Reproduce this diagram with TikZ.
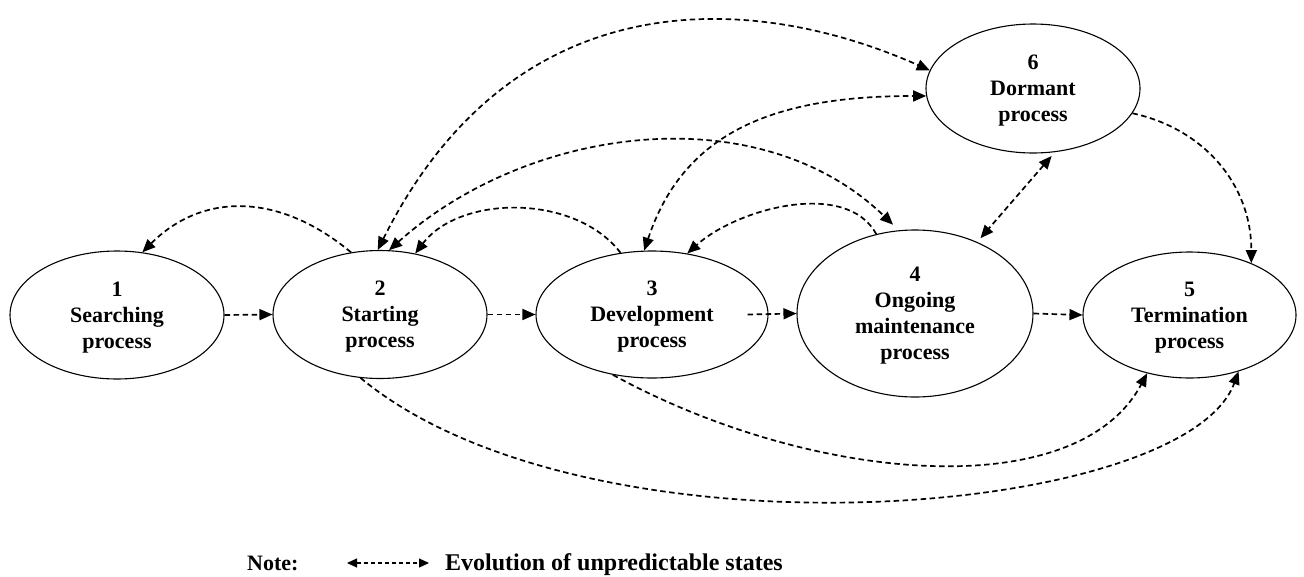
\documentclass[tikz,border=0pt]{standalone}
\usepackage{fontspec}
\setmainfont{Liberation Serif}
\usetikzlibrary{arrows.meta,shapes.geometric}
\begin{document}
\begin{tikzpicture}[x=1pt,y=-1pt,
  >={Triangle[length=13pt,width=11pt]},
  proc/.style={ellipse,draw,line width=1.1pt,inner sep=0pt,align=center,text depth=-10pt,
    font=\fontsize{22}{26}\selectfont\bfseries},
  flow/.style={line width=1.7pt,dash pattern=on 5.5pt off 3.5pt,->},
  both/.style={line width=1.7pt,dash pattern=on 5.5pt off 3.5pt,<->},
  legend/.style={anchor=base west,inner sep=0pt}
]
\useasboundingbox (0,0) rectangle (1304,576);

% process states
\node[proc,minimum width=214pt,minimum height=128pt] (n1) at (117,315)   {1\\Searching\\process};
\node[proc,minimum width=214pt,minimum height=128pt] (n2) at (380,314.5) {2\\Starting\\process};
\node[proc,minimum width=232pt,minimum height=127pt] (n3) at (652,314.5) {3\\Development\\process};
\node[proc,minimum width=236pt,minimum height=167pt] (n4) at (915,313.5) {4\\Ongoing\\maintenance\\process};
\node[proc,minimum width=213pt,minimum height=126pt] (n5) at (1189.5,315) {5\\Termination\\process};
\node[proc,minimum width=214pt,minimum height=129pt] (n6) at (1033,88.5) {6\\Dormant\\process};

% main sequence
\draw[flow] (n1.east) -- (n2.west);
\draw[flow] (n2.east) -- (n3.west);
\draw[flow] ([xshift=-21pt]n3.east) -- (n4.west);
\draw[flow] (n4.east) -- (n5.west);

% upper transitions
\draw[flow] (n2.115) .. controls +(-72,-60) and +(60,-60) .. (n1.68);
\draw[both] (n2.92) .. controls +(135,-270) and +(-180,-80) .. (n6.170);
\draw[both] (n3.97) .. controls +(40,-120) and +(-150,0) .. (n6.184);
\draw[both,shorten >=8pt] (n2.82) .. controls +(140,-125) and +(-140,-135) .. (n4.101);
\draw[flow] (n3.117) .. controls +(-45,-59) and +(45,-59) .. (n2.60);
\draw[flow] (n4.116) .. controls +(-30,-55) and +(50,-45) .. (n3.60);
\draw[both,shorten <=5pt,shorten >=5pt] (n6.289) -- (n4.49);
\draw[flow] (n6.-14) .. controls +(70,15) and +(0,-80) .. (n5.40);

% lower transitions
\draw[flow] (n3.237) .. controls +(197,108) and +(-71,133) .. (n5.234);
\draw[flow] (n2.253) .. controls +(227,188) and +(-55,148) .. (n5.311);

% legend
\node[legend,font=\fontsize{22}{26}\selectfont\bfseries] (note) at (247,570) {Note:};
\coordinate (la) at (347,563);
\coordinate (lb) at (429,563);
\draw[line width=1.2pt,dash pattern=on 4pt off 3pt,<->,>={Triangle[length=10pt,width=9pt]}] (la) -- (lb);
\node[legend,font=\fontsize{24}{28}\selectfont\bfseries] (evo) at (445,570) {Evolution of unpredictable states};
\end{tikzpicture}
\end{document}
